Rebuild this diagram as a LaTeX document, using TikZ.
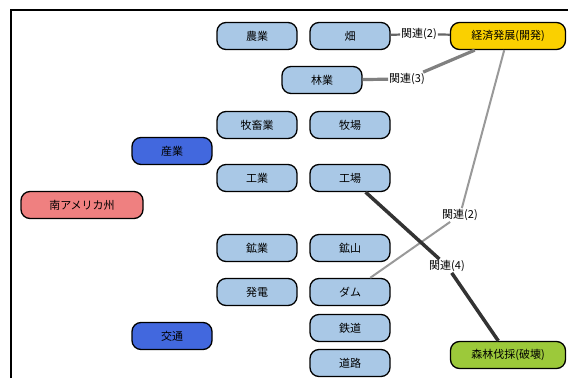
\documentclass[tikz,border=0pt]{standalone}
\usepackage{fontspec}
\newfontfamily\jpfont{Noto Sans CJK JP}
\definecolor{usuao}{RGB}{169,200,230}
\definecolor{ao}{RGB}{66,104,222}
\definecolor{aka}{RGB}{239,128,128}
\definecolor{kiiro}{RGB}{250,208,0}
\definecolor{midori}{RGB}{156,201,58}

\begin{document}
\begin{tikzpicture}[x=1pt,y=-1pt,
	box/.style={draw=black, line width=1.3pt, rounded corners=9pt, minimum width=80pt,
		minimum height=27pt, inner sep=0pt, font=\jpfont\fontsize{11}{13}\selectfont},
	kanren/.style={fill=white, inner sep=1pt, font=\jpfont\fontsize{11}{13}\selectfont}]
			\useasboundingbox (0,0) rectangle (568,378);

			% waku
			\draw[line width=2pt] (11,378) -- (11,10) -- (568,10);

			% ne
			\node[box, fill=aka, minimum width=122pt] (minami) at (82,205) {南アメリカ州};
			\node[box, fill=ao] (sangyo) at (172,151) {産業};
			\node[box, fill=ao] (kotsu) at (172,336) {交通};

			% sangyo no eda
			\foreach \nm/\x/\y/\txt in {nogyo/257/36/農業, hata/350/36/畑, ringyo/322/80/林業,
				bokuchiku/257/125/牧畜業, bokujo/350/125/牧場, kogyo/257/178/工業, kojo/350/178/工場,
				kogyo2/257/248/鉱業, kozan/350/248/鉱山, hatsuden/257/292/発電, dam/350/292/ダム,
				tetsudo/350/328/鉄道, doro/350/363/道路} {
				\node[box, fill=usuao] (\nm) at (\x,\y) {\txt};
			}

			\node[box, fill=kiiro, minimum width=115pt] (keizai) at (508,36) {経済発展(開発)};
			\node[box, fill=midori, minimum width=115pt] (shinrin) at (508,355) {森林伐採(破壊)};

			% kanren
			\node[kanren] (k2a) at (419,34) {関連(2)};
			\node[kanren] (k3) at (407,79) {関連(3)};
			\node[kanren] (k2b) at (460,215) {関連(2)};
			\node[kanren] (k4) at (447,266) {関連(4)};

			\draw[line width=2.2pt, black!60] (hata) -- (k2a) -- (keizai);
			\draw[line width=3.2pt, black!50] (ringyo) -- (k3) -- (keizai);
			\draw[line width=2pt, black!40] (dam) -- (k2b) -- (keizai);
			\draw[line width=3.5pt, black!80] (kojo) -- (k4) -- (shinrin);
		\end{tikzpicture}
\end{document}
